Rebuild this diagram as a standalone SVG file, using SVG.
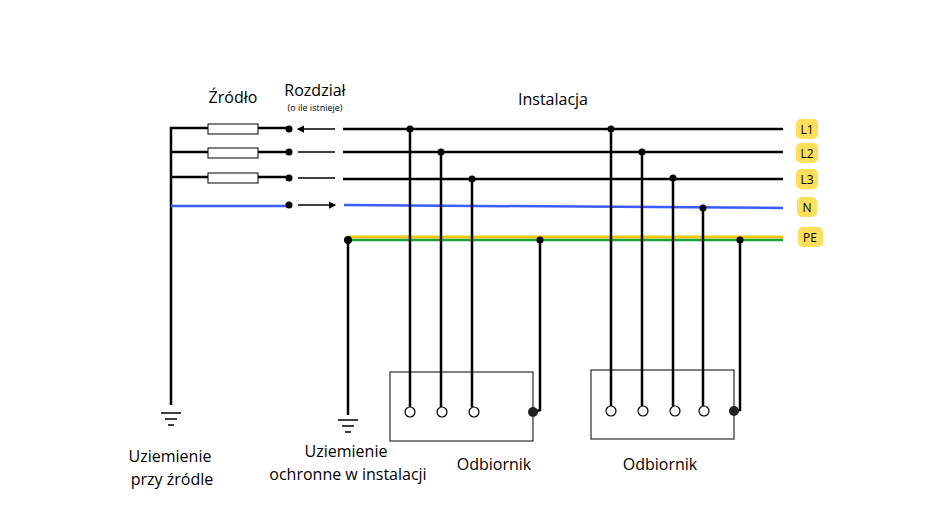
<svg xmlns="http://www.w3.org/2000/svg" width="945" height="531" viewBox="0 0 945 531">
<style>
.w{stroke:#000;stroke-width:2.5;fill:none}
.t{stroke:#000;stroke-width:1.5;fill:none}
.f{fill:#fff;stroke:#000;stroke-width:1}
.lbl{font-family:"Open Sans","Liberation Sans",sans-serif;font-size:16px;fill:#000}
.b{fill:#FFDE59}
.bt{font-family:"Open Sans","Liberation Sans",sans-serif;font-size:12px;fill:#000;text-anchor:middle}
.c{fill:#fff;stroke:#000;stroke-width:1.2}
</style>
<defs>
<marker id="ah" viewBox="0 0 6 6" refX="5" refY="3" markerWidth="5" markerHeight="5" orient="auto-start-reverse"><path d="M0,0L6,3L0,6z" fill="#000"/></marker>
</defs>
<rect width="945" height="531" fill="#fff"/>
<g id="connectors">
<path class="w" d="M171,405V128H289M171,152H289M171,177H289"/>
<path d="M171,206H289" stroke="#3b5bff" stroke-width="2.5"/>
<path class="w" d="M343,129H783M343,152H783M343,179H783"/>
<path d="M344,205L783,208" stroke="#3b5bff" stroke-width="2.5"/>
<path d="M347,237H783" stroke="#f2c500" stroke-width="3"/>
<path d="M347,240H783" stroke="#1aa33a" stroke-width="2.5"/>
<path class="w" d="M348,240V415"/>
<path class="t" d="M298,129H335M298,152H335M298,178H335M298,205H335" marker-start="url(#ah)" marker-end="url(#ah)" stroke-width="1"/>
<path class="w" d="M410,129V407M441,152V407M472,179V407M540,240V410L533,412"/>
<path class="w" d="M611,129V406M642,152V406M673,178V406M703,208V406M740,240V410L734,411"/>
<g fill="#000">
<circle cx="289" cy="129" r="3.5"/><circle cx="289" cy="152" r="3.5"/><circle cx="289" cy="178" r="3.5"/><circle cx="289" cy="205" r="3.5"/>
<circle cx="410" cy="129" r="3.5"/><circle cx="441" cy="152" r="3.5"/><circle cx="472" cy="179" r="3.5"/><circle cx="540" cy="240" r="3.5"/><circle cx="348" cy="240" r="4"/>
<circle cx="611" cy="129" r="3.5"/><circle cx="642" cy="152" r="3.5"/><circle cx="673" cy="178" r="3.5"/><circle cx="703" cy="208" r="3.5"/><circle cx="740" cy="240" r="3.5"/>
</g>
</g>
<g id="fuses">
<rect class="f" x="208" y="124" width="50" height="10"/>
<rect class="f" x="208" y="148" width="50" height="10"/>
<rect class="f" x="208" y="173" width="50" height="10"/>
</g>
<g id="ground-source" class="t">
<path d="M161,413H181M165,419H177M168,425H174"/>
</g>
<g id="ground-install" class="t">
<path d="M338,420H358M342,426H354M345,432H351"/>
</g>
<g id="load1">
<rect x="390" y="372" width="143" height="69" fill="none" stroke="#000" stroke-width="1"/>
<circle class="c" cx="410" cy="412" r="5"/><circle class="c" cx="442" cy="412" r="5"/><circle class="c" cx="474" cy="412" r="5"/>
<circle cx="533" cy="412" r="5" fill="#222"/>
<text class="lbl" x="494" y="470" text-anchor="middle">Odbiornik</text>
</g>
<g id="load2">
<rect x="591" y="370" width="143" height="69" fill="none" stroke="#000" stroke-width="1"/>
<circle class="c" cx="611" cy="411" r="5"/><circle class="c" cx="643" cy="411" r="5"/><circle class="c" cx="675" cy="411" r="5"/><circle class="c" cx="704" cy="411" r="5"/>
<circle cx="734" cy="411" r="5" fill="#222"/>
<text class="lbl" x="660" y="470" text-anchor="middle">Odbiornik</text>
</g>
<g id="labels">
<text class="lbl" x="233" y="103" text-anchor="middle">Źródło</text>
<text class="lbl" x="315" y="96" text-anchor="middle">Rozdział</text>
<text x="315" y="111" text-anchor="middle" font-family="Open Sans, Liberation Sans, sans-serif" font-size="9">(o ile istnieje)</text>
<text class="lbl" x="553" y="105" text-anchor="middle">Instalacja</text>
<text class="lbl" x="170" y="462" text-anchor="middle">Uziemienie</text>
<text class="lbl" x="172" y="485" text-anchor="middle">przy źródle</text>
<text class="lbl" x="346" y="457" text-anchor="middle">Uziemienie</text>
<text class="lbl" x="348" y="480" text-anchor="middle">ochronne w instalacji</text>
</g>
<g id="badges">
<rect class="b" x="796" y="119" width="22" height="20" rx="5"/><text class="bt" x="807" y="134">L1</text>
<rect class="b" x="796" y="143" width="22" height="20" rx="5"/><text class="bt" x="807" y="158">L2</text>
<rect class="b" x="796" y="169" width="22" height="20" rx="5"/><text class="bt" x="807" y="184">L3</text>
<rect class="b" x="797" y="197" width="20" height="20" rx="5"/><text class="bt" x="807" y="212">N</text>
<rect class="b" x="798" y="227" width="25" height="20" rx="5"/><text class="bt" x="810" y="242">PE</text>
</g>
</svg>
